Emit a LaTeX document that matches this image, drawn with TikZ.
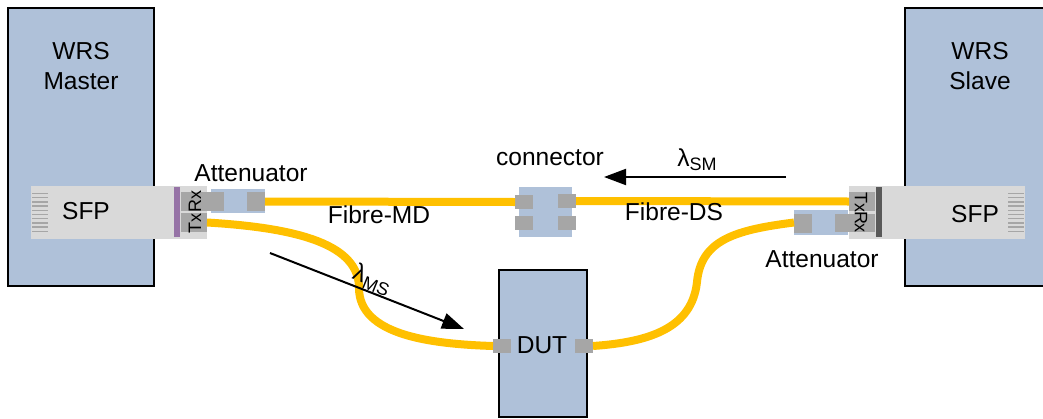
\documentclass[tikz,border=0pt]{standalone}
\usepackage{fontspec}
\setmainfont{Liberation Sans}
\usetikzlibrary{arrows.meta}
\newcommand{\PX}{0.75}
\newcommand{\FIBREW}{8}
\definecolor{boxblue}{HTML}{AFC1D9}
\definecolor{portgrey}{HTML}{A6A6A6}
\definecolor{sfpgrey}{HTML}{D9D9D9}
\definecolor{fibre}{HTML}{FFC000}
\definecolor{barpurple}{HTML}{9673A6}
\definecolor{bardark}{HTML}{595959}
\tikzset{
	dims/.style 2 args={minimum width=#1*\PX pt,minimum height=#2*\PX pt},
	unit/.style={draw=black,line width=2*\PX pt,fill=boxblue},
	sfp/.style={fill=sfpgrey},
	port/.style={fill=portgrey},
	atten/.style={fill=boxblue},
	fibreline/.style={draw=fibre,line width=\FIBREW*\PX pt},
	lambdaline/.style={draw=black,line width=2*\PX pt,-{Triangle[length=16.5pt,width=12pt]}},
	comb/.style={draw=portgrey,line width=1.5*\PX pt},
	small/.style={font=\fontsize{13.5}{14}\selectfont},
}
\newcommand{\SUBTXT}[1]{\raisebox{-3pt}{\fontsize{13.5}{14}\selectfont #1}}

\begin{document}
\begin{tikzpicture}[x=\PX pt,y=-\PX pt]
\tikzstyle{every node}=[font=\fontsize{18.4}{22.5}\selectfont,inner sep=0pt,outer sep=0pt,text=black]
\clip (0,0) rectangle (1043,418);

% Units
	\node[unit,dims={146}{278}] (master) at (81,147) {};
	\node[unit,dims={160}{278}] (slave) at (985,147) {};
	\node[unit,dims={88}{147}] (dut) at (543,343.5) {};
	\node[align=center] (masterlabel) at (81,66) {WRS\\Master};
	\node[align=center] (slavelabel) at (980,66) {WRS\\Slave};
	\node (dutlabel) at (542,345) {DUT};

% SFP master
	\node[sfp,dims={176}{53}] (sfpm) at (119,212.5) {};
	\node[fill=barpurple,dims={6}{50}] (barm) at (177,212) {};
	\foreach \i in {0,...,9}
		\draw[comb] (32,{193.5+4.2*\i}) -- (48,{193.5+4.2*\i});
	\node (sfpmlabel) at (86,211) {SFP};

% SFP slave
	\node[sfp,dims={176}{53}] (sfps) at (937,212.5) {};
	\node[fill=bardark,dims={6}{50}] (bars) at (879,212) {};
	\foreach \i in {0,...,9}
		\draw[comb] (1008,{193.5+4.2*\i}) -- (1024,{193.5+4.2*\i});
	\node (sfpslabel) at (975,214) {SFP};

% Attenuators
	\node[atten,dims={54}{24}] (attm) at (238,201) {};
	\node[atten,dims={54}{25}] (atts) at (821,222.5) {};
	\node (attmlabel) at (251,173) {Attenuator};
	\node (attslabel) at (822,259) {Attenuator};

% Connector
	\node[atten,dims={53}{50}] (conn) at (545.5,212) {};
	\node (connlabel) at (550,158) {connector};

% Ports
	\node[port,dims={43}{19}] (rxm) at (202.5,201.5) {};
	\node[port,dims={26}{19}] (txm) at (194,222.5) {};
	\node[port,dims={18}{19}] (attmout) at (256,201.5) {};
	\node[port,dims={26}{19}] (txs) at (862,201.5) {};
	\node[port,dims={40}{18}] (rxs) at (855,223) {};
	\node[port,dims={18}{19}] (attsout) at (803,223.5) {};
	\node[port,dims={18}{14}] (connla) at (524,202) {};
	\node[port,dims={18}{14}] (connlb) at (524,223) {};
	\node[port,dims={18}{14}] (connra) at (567,201) {};
	\node[port,dims={18}{14}] (connrb) at (567,223) {};
	\node[port,dims={18}{14}] (dutin) at (502,346) {};
	\node[port,dims={18}{14}] (dutout) at (584,346) {};

% Port labels
	\node[small,rotate=90] (rxmlabel) at (195,201) {Rx};
	\node[small,rotate=90] (txmlabel) at (195,223) {Tx};
	\node[small,rotate=-90] (txslabel) at (861,202) {Tx};
	\node[small,rotate=-90] (rxslabel) at (861,222) {Rx};

% Fibres
	\coordinate (bendl) at (359,288);
	\coordinate (bendr) at (697,282);
	\draw[fibreline] (attmout.east) -- (connla.west);
	\draw[fibreline] (connra.east) -- (txs.west);
	\draw[fibreline] (txm.east) .. controls (300,228) and (359,245) .. (bendl) .. controls (359,335) and (430,344) .. (dutin.west);
	\draw[fibreline] (dutout.east) .. controls (650,342) and (692,328) .. (bendr) .. controls (701,240) and (735,230) .. (atts.west);

% Fibre labels
	\node (fibremd) at (379,215) {Fibre-MD};
	\node (fibreds) at (674,212) {Fibre-DS};

% Wavelengths
	\coordinate (smstart) at (786,177);
	\coordinate (smend) at (604,177);
	\coordinate (msstart) at (270,253);
	\coordinate (msend) at (464,329);
	\draw[lambdaline] (smstart) -- (smend);
	\draw[lambdaline] (msstart) -- (msend);
	\node (lamsm) at (697,160) {λ\SUBTXT{SM}};
	\node[rotate=-22] (lamms) at (372,280) {λ\SUBTXT{MS}};

\end{tikzpicture}
\end{document}
